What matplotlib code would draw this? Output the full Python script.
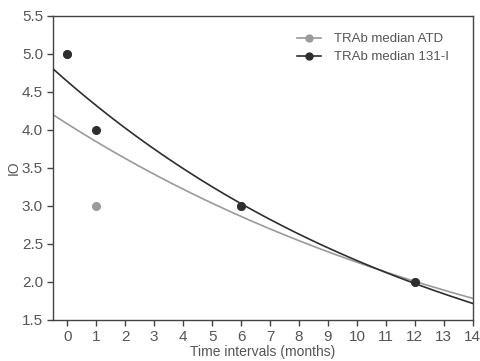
import numpy as np
import matplotlib
matplotlib.use("Agg")
import matplotlib.pyplot as plt

plt.rcParams['font.family'] = ['Liberation Sans', 'DejaVu Sans']

months = [0, 1, 6, 12]
trab_atd = [5.0, 3.0, 3.0, 2.0]
trab_131i = [5.0, 4.0, 3.0, 2.0]
xticks = list(range(0, 15))
yticks = [1.5, 2.0, 2.5, 3.0, 3.5, 4.0, 4.5, 5.0, 5.5]

c_atd = "#9a9a9a"
c_131 = "#2e2e2e"
text_c = "#555555"

fig = plt.figure(figsize=(4.8, 3.61), dpi=100)
ax = fig.add_axes([0.110, 0.114, 0.875, 0.842])

xs = np.linspace(-0.5, 14, 300)


def exp_fit(x, y):
    slope, intercept = np.polyfit(x, np.log(y), 1)
    return np.exp(intercept + slope * xs)


ax.plot(xs, exp_fit(months, trab_atd), color=c_atd, lw=1.2, zorder=2)
ax.plot(xs, exp_fit(months, trab_131i), color=c_131, lw=1.2, zorder=3)
ax.plot(months, trab_atd, 'o', color=c_atd, ms=5.5, zorder=4)
ax.plot(months, trab_131i, 'o', color=c_131, ms=5.5, zorder=5)

# legend proxies: line with marker
ax.plot([], [], '-o', color=c_atd, ms=5, lw=1.2, label="TRAb median ATD")
ax.plot([], [], '-o', color=c_131, ms=5, lw=1.2, label="TRAb median 131-I")
leg = ax.legend(loc="upper right", frameon=False, fontsize=9.5, handlelength=1.8,
                borderaxespad=0.9, labelspacing=0.45, handletextpad=1.0,
                bbox_to_anchor=(0.985, 1.0))
for t in leg.get_texts():
    t.set_color(text_c)

ax.set_xlim(-0.5, 14)
ax.set_ylim(1.5, 5.5)
ax.set_xticks(xticks)
ax.set_yticks(yticks)
ax.set_yticklabels([f"{v:.1f}" for v in yticks])
ax.tick_params(direction="out", length=4, width=1, colors="#444444",
               labelcolor=text_c, labelsize=11, pad=3)
for s in ax.spines.values():
    s.set_color("#444444")
    s.set_linewidth(1.0)

ax.set_xlabel("Time intervals (months)", fontsize=10, color=text_c, labelpad=1)
ax.set_ylabel("IO", fontsize=10, color=text_c, labelpad=1)

fig.savefig("out.png", dpi=100)
